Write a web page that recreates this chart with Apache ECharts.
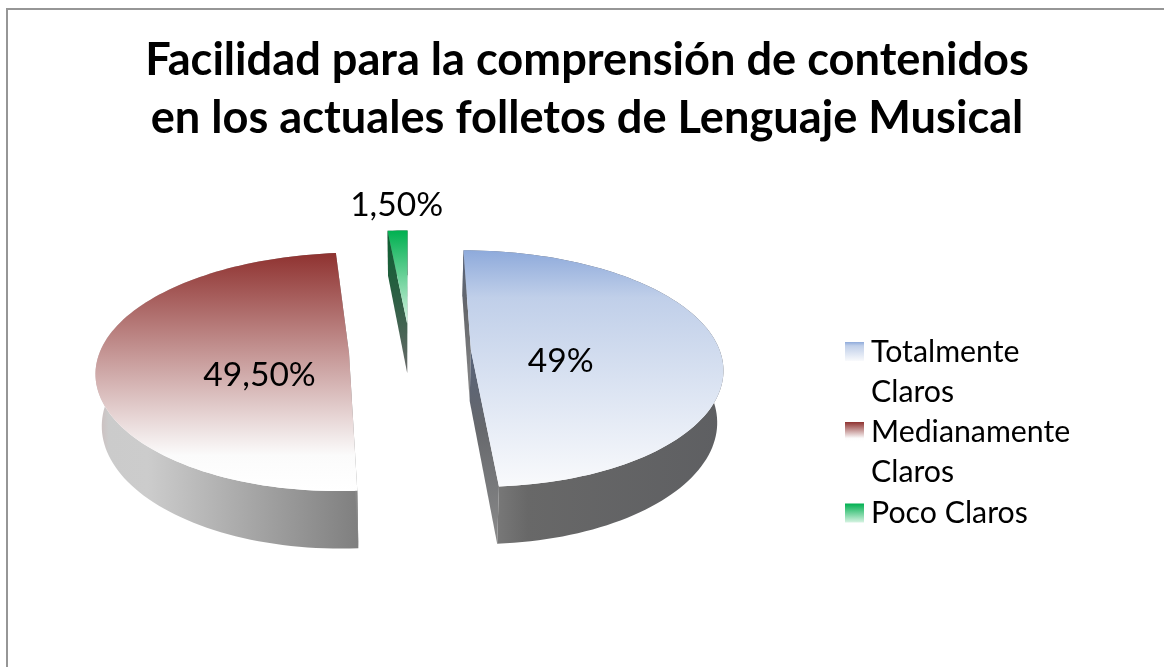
<!DOCTYPE html>
<html>
<head>
<meta charset="utf-8">
<style>html,body{margin:0;padding:0;background:#fff}#c{width:1164px;height:667px}</style>
<script src="https://cdn.jsdelivr.net/npm/echarts@6/dist/echarts.min.js"></script>
</head>
<body>
<div id="c"></div>
<script>
var titleText = 'Facilidad para la comprensión de contenidos\nen los actuales folletos de Lenguaje Musical';
var categories = ['Totalmente Claros', 'Medianamente Claros', 'Poco Claros'];
var values = [49, 49.5, 1.5];
var valueLabels = ['49%', '49,50%', '1,50%'];

var FONT = 'Lato, Carlito, Calibri, sans-serif';
var CX = 410, CY = 351, RX = 249, RY = 115.6, PERSP_Y = 0.156, PERSP_X = 0.14, DEPTH = 51, DEPTH_P = 0.11, EXPLODE = 0.245, BOTTOM_SCALE = 0.98;
var topFill = [
  [[0, '#8eaadb'], [0.2, '#c0cfe9'], [1, '#f9fafc']],
  [[0, '#8f3230'], [0.85, '#fbfbfb'], [1, '#ffffff']],
  [[0, '#00b050'], [1, '#d6f3e2']]
];
var wallFill = [
  [[0, '#8a8a8a'], [0.25, '#686868'], [1, '#5e5f62']],
  [[0, '#cdb9b9'], [0.05, '#cbcbcb'], [0.2, '#cccccc'], [1, '#7f7f7f']],
  [[0, '#666666'], [1, '#666666']]
];
var faceFill = [
  [[0, '#56627a'], [0.4, '#66686c'], [1, '#8a8a8a']],
  [[0, '#888888'], [1, '#888888']],
  [[0, '#0a5f30'], [0.5, '#2f5f45'], [1, '#6a6a6a']]
];
var labelRadius = [0.362, 0.357, 1.36];
var labelDrop = [12, 19, 2];
var labelNudge = [0, 0, 2];

var total = values.reduce(function (a, b) { return a + b; }, 0);
var starts = [], acc = 0;
values.forEach(function (v) { starts.push(acc / total * Math.PI * 2); acc += v; });

function project(X, Y, low) {
  var x = CX + RX * X / (1 + PERSP_X * Y);
  var y = CY - RY * Y / (1 + PERSP_Y * Y);
  if (low) {
    x = CX + (x - CX) * BOTTOM_SCALE;
    y += DEPTH / (1 + DEPTH_P * Y);
  }
  return [x, y];
}
function grad(dir, stops) {
  return {
    type: 'linear', x: 0, y: 0, x2: dir === 'h' ? 1 : 0, y2: dir === 'h' ? 0 : 1,
    colorStops: stops.map(function (s) { return { offset: s[0], color: s[1] }; })
  };
}
function poly(points, fill, z2) {
  return { type: 'polygon', shape: { points: points }, style: { fill: fill }, z2: z2 };
}
function renderSlice(i) {
  return function () {
    var a0 = starts[i], span = values[i] / total * Math.PI * 2, mid = a0 + span / 2;
    var ox = EXPLODE * Math.sin(mid), oy = EXPLODE * Math.cos(mid);
    var steps = Math.max(4, Math.round(span / 0.03));
    var arcTop = [], arcLow = [];
    for (var k = 0; k <= steps; k++) {
      var t = a0 + span * k / steps;
      var X = ox + Math.sin(t), Y = oy + Math.cos(t);
      arcTop.push(project(X, Y, false));
      arcLow.push(project(X, Y, true));
    }
    var apexTop = project(ox, oy, false), apexLow = project(ox, oy, true);
    var wall = arcTop.concat(arcLow.slice().reverse());
    var last = steps;
    var face1 = [arcTop[0], apexTop, apexLow, arcLow[0]];
    var face2 = [arcTop[last], apexTop, apexLow, arcLow[last]];
    var top = [apexTop].concat(arcTop);
    var r = labelRadius[i];
    var lp = project(ox + r * Math.sin(mid), oy + r * Math.cos(mid), false);
    return {
      type: 'group',
      children: [
        poly(wall, grad('h', wallFill[i]), 1),
        poly(face1, grad('v', faceFill[i]), 2),
        poly(face2, grad('v', faceFill[i]), 2),
        poly(top, grad('v', topFill[i]), 3),
        {
          type: 'text', z2: 4,
          style: { text: valueLabels[i], x: lp[0] + labelNudge[i], y: lp[1] + labelDrop[i], align: 'center', verticalAlign: 'middle',
                   font: '33.6px ' + FONT, fill: '#000' }
        }
      ]
    };
  };
}
function iconGrad(stops, frac) {
  return {
    type: 'linear', x: 0, y: 0, x2: 0, y2: 1,
    colorStops: stops.map(function (s) { return { offset: s[0] * frac, color: s[1] }; })
      .concat([{ offset: frac, color: '#ffffff' }, { offset: 1, color: '#ffffff' }])
  };
}
var tallIcon = 'path://M0 0H19V19H0Z M0 60L19 60';
var legendText = { fontFamily: FONT, fontSize: 30.3, lineHeight: 40, color: '#000', padding: [0, 0, 0, 2] };

var chart = echarts.init(document.getElementById('c'), null, { renderer: 'canvas' });
chart.setOption({
  animation: false,
  backgroundColor: '#fff',
  title: {
    text: titleText, left: 582, top: 26, textAlign: 'center',
    textStyle: { fontFamily: FONT, fontWeight: 'bold', fontSize: 45.2, lineHeight: 58, color: '#000' }
  },
  legend: [{
    orient: 'vertical', left: 845, top: 332, padding: 0, itemWidth: 19, itemHeight: 60, itemGap: 0,
    selectedMode: false, textStyle: legendText,
    formatter: function (n) { return n.replace(' ', '\n'); },
    data: [
      { name: categories[0], icon: tallIcon, itemStyle: { color: iconGrad(topFill[0], 19 / 60) } },
      { name: categories[1], icon: tallIcon, itemStyle: { color: iconGrad(topFill[1], 19 / 60) } }
    ]
  }, {
    orient: 'vertical', left: 845, top: 493, padding: 0, itemWidth: 19, itemHeight: 19, itemGap: 0,
    selectedMode: false, textStyle: legendText,
    data: [{ name: categories[2], icon: 'rect', itemStyle: { color: grad('v', topFill[2]) } }]
  }],
  graphic: [{
    type: 'polyline', silent: true,
    shape: { points: [[7, 667], [7, 9], [1164, 9]] },
    style: { fill: null, stroke: '#969696', lineWidth: 2 }
  }],
  series: categories.map(function (name, i) {
    return {
      type: 'custom', name: name, coordinateSystem: 'none', silent: true,
      data: [values[i]], renderItem: renderSlice(i)
    };
  })
});
</script>
</body>
</html>
